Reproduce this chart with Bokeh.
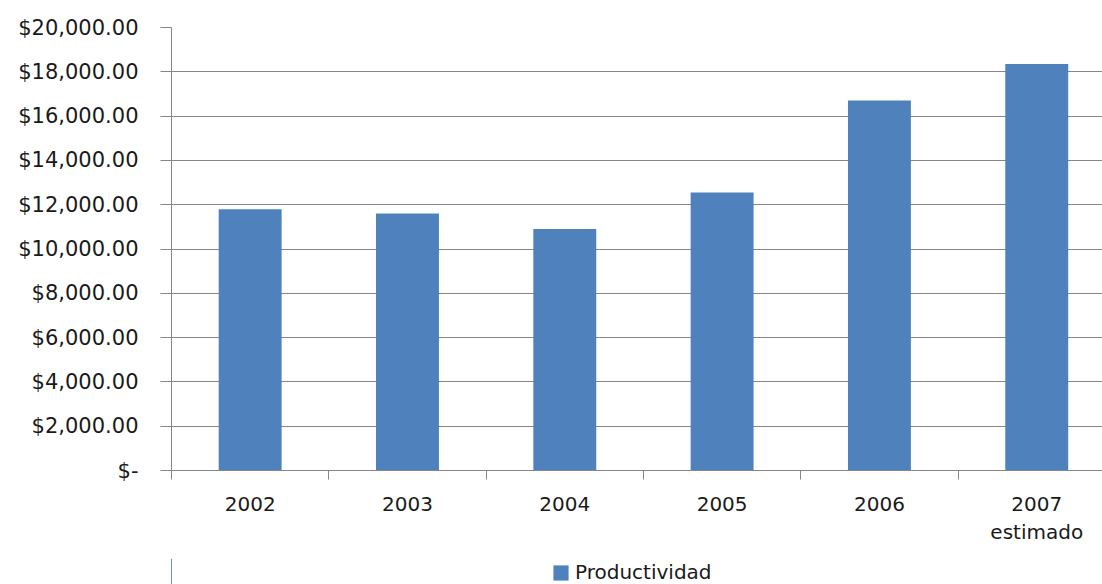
from bokeh.plotting import figure
from bokeh.models import Range1d, FixedTicker, Legend, LegendItem, ColumnDataSource
from bokeh.layouts import column
from bokeh.embed import file_html
from bokeh.resources import INLINE

# ---- data ----
years = ["2002", "2003", "2004", "2005", "2006", "2007\nestimado"]
productividad = [11800, 11600, 10900, 12550, 16700, 18350]
y_ticks = [0, 2000, 4000, 6000, 8000, 10000, 12000, 14000, 16000, 18000, 20000]
y_tick_labels = ["$-", "$2,000.00", "$4,000.00", "$6,000.00", "$8,000.00", "$10,000.00",
                 "$12,000.00", "$14,000.00", "$16,000.00", "$18,000.00", "$20,000.00"]
series_name = "Productividad"

BAR = "#4F81BD"
AXIS = "#868686"
TXT = "#1a1a1a"
FONT = "DejaVu Sans"

centers = [i + 0.5 for i in range(len(years))]
src = ColumnDataSource(dict(x=centers, top=productividad, year=years))

p = figure(width=1102, height=558, output_backend="svg", toolbar_location=None,
           x_range=Range1d(0, 5.918), y_range=Range1d(0, 20000))
p.min_border_left = 171
p.min_border_right = 0
p.min_border_top = 27
p.min_border_bottom = 88
p.outline_line_color = None
p.background_fill_color = "white"
p.border_fill_color = "white"

r = p.vbar(x="x", top="top", width=0.4, bottom=0, source=src,
           fill_color=BAR, line_color=None)

# y axis
ya = p.yaxis[0]
ya.ticker = FixedTicker(ticks=y_ticks)
ya.major_label_overrides = {t: l for t, l in zip(y_ticks, y_tick_labels)}
ya.axis_line_color = AXIS
ya.major_tick_line_color = AXIS
ya.major_tick_out = 11
ya.major_tick_in = 0
ya.minor_tick_line_color = None
ya.major_label_standoff = 22
ya.major_label_text_font = FONT
ya.major_label_text_font_size = "21px"
ya.major_label_text_color = TXT

# x axis: labels at centers, minor ticks at category boundaries
xa = p.xaxis[0]
xa.ticker = FixedTicker(ticks=centers, minor_ticks=list(range(len(years) + 1)))
xa.major_label_overrides = {c: y for c, y in zip(centers, years)}
xa.axis_line_color = AXIS
xa.major_tick_line_color = None
xa.major_tick_out = 0
xa.major_tick_in = 0
xa.minor_tick_line_color = AXIS
xa.minor_tick_out = 9
xa.minor_tick_in = 0
xa.major_label_standoff = 12
xa.major_label_text_font = FONT
xa.major_label_text_font_size = "20px"
xa.major_label_text_color = TXT

p.xgrid.grid_line_color = None
p.ygrid.ticker = FixedTicker(ticks=y_ticks)
p.ygrid.grid_line_color = AXIS
p.ygrid.grid_line_width = 1

# legend strip below the chart (no axes, frame aligned with the chart frame)
lg = figure(width=1102, height=26, output_backend="svg", toolbar_location=None,
            x_range=Range1d(100, 101), y_range=Range1d(0, 1),
            x_axis_location=None, y_axis_location=None)
lg.min_border = 0
lg.min_border_left = 171
lg.outline_line_color = None
lg.grid.grid_line_color = None
lg.grid.visible = False
lr = lg.vbar(x="x", top="top", width=0.4, bottom=0, source=src,
             fill_color=BAR, line_color=None)
legend = Legend(items=[LegendItem(label=series_name, renderers=[lr])],
                location=(380, 0), orientation="horizontal",
                padding=0, margin=0, spacing=0,
                glyph_width=19, glyph_height=19, label_standoff=5,
                label_text_font=FONT, label_text_font_size="20px",
                label_text_color=TXT, border_line_color=None,
                background_fill_alpha=0)
lg.add_layout(legend, "center")

layout = column(p, lg, spacing=0)
open("out.html", "w").write(file_html(layout, INLINE))
